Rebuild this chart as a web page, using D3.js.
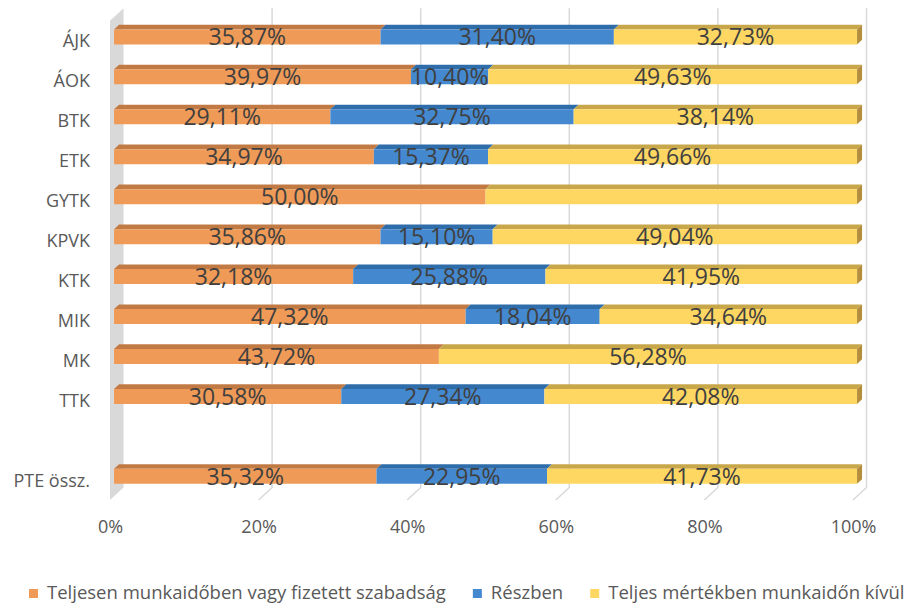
<!DOCTYPE html>
<html><head><meta charset="utf-8">
<script src="https://cdn.jsdelivr.net/npm/d3@7"></script>
<style>body{margin:0;background:#fff}svg{display:block;font-family:"Open Sans",sans-serif}</style>
</head><body><svg id="c" width="904" height="606"></svg>
<script>
const categories = ["ÁJK","ÁOK","BTK","ETK","GYTK","KPVK","KTK","MIK","MK","TTK","","PTE össz."];
const fullTime   = [35.87,39.97,29.11,34.97,50.00,35.86,32.18,47.32,43.72,30.58,null,35.32];
const partTime   = [31.40,10.40,32.75,15.37,0,15.10,25.88,18.04,0,27.34,null,22.95];
const outsideTime= [32.73,49.63,38.14,49.66,50.00,49.04,41.95,34.64,56.28,42.08,null,41.73];
const seriesNames = ["Teljesen munkaidőben vagy fizetett szabadság","Részben","Teljes mértékben munkaidőn kívül"];
const hiddenLabels = [["GYTK",2]];
const ticks = [0,20,40,60,80,100];

const colors = {front:["#EF9A57","#4489D0","#FED763"], top:["#C27A45","#2E6CAA","#C7A74A"], side:["#B48E3C"]};

const svg = d3.select("#c");
const DX = 13.5, DY = 12.5;        // depth vector
const D0 = 0.3, D1 = 0.67;          // bar depth range
const x = d3.scaleLinear().domain([0,100]).range([110,853]);
const y = d3.scaleBand().domain(categories).range([20.7,500]).padding(0);
const P = (p, d, v) => [x(p) + d*DX, v - d*DY];
const barH = 15;
const yTop = y.range()[0], yBot = y.range()[1];

// wall
svg.append("polygon")
  .attr("points", [P(0,0,yTop),P(0,1,yTop),P(0,1,yBot),P(0,0,yBot)].map(p=>p.join(",")).join(" "))
  .attr("fill","#D9D9D9");
// gridlines on back wall
const g = svg.append("g");
ticks.filter(t=>t>0).forEach(t=>{
  const a = P(t,1,yTop), b = P(t,1,yBot), c = P(t,0,yBot);
  g.append("path").attr("d",`M${a}L${b}L${c}`).attr("fill","none").attr("stroke","#D9D9D9").attr("stroke-width",1.5);
});

// bars
const series = [fullTime, partTime, outsideTime];
const bars = svg.append("g");
const labels = svg.append("g").attr("font-size",23).attr("fill","#404040").attr("text-anchor","middle");
categories.forEach((cat,i)=>{
  if (fullTime[i] == null) return;
  const vc = y(cat) + y.bandwidth()/2;
  const vt = vc - barH/2, vb = vc + barH/2;
  let acc = 0;
  let lastIdx = -1;
  series.forEach((s,k)=>{ if (s[i] > 0) lastIdx = k; });
  series.forEach((s,k)=>{
    const v = s[i];
    if (!(v > 0)) return;
    const x0 = acc, x1 = acc + v;
    acc = x1;
    const f = [P(x0,D0,vt),P(x1,D0,vt),P(x1,D0,vb),P(x0,D0,vb)];
    const t = [P(x0,D0,vt),P(x1,D0,vt),P(x1,D1,vt),P(x0,D1,vt)];
    bars.append("polygon").attr("points",t.map(p=>p.join(",")).join(" ")).attr("fill",colors.top[k]);
    bars.append("polygon").attr("points",f.map(p=>p.join(",")).join(" ")).attr("fill",colors.front[k]);
    if (k === lastIdx) {
      const sd = [P(x1,D0,vt),P(x1,D1,vt),P(x1,D1,vb),P(x1,D0,vb)];
      bars.append("polygon").attr("points",sd.map(p=>p.join(",")).join(" ")).attr("fill",colors.side[0]);
    }
    const hidden = hiddenLabels.some(h=>h[0]===cat && h[1]===k);
    if (!hidden) {
      const c = P((x0+x1)/2, D0, vc);
      labels.append("text").attr("x",c[0]).attr("y",c[1]).attr("dy","0.36em")
        .text(v.toFixed(2).replace(".",",")+"%");
    }
  });
});

// category labels (front plane)
const yAxis = d3.axisLeft(y).tickSize(0).tickPadding(0);
const ya = svg.append("g").attr("transform","translate(90,0)").call(yAxis);
ya.select(".domain").remove();
ya.selectAll("text").attr("font-size",18).attr("fill","#595959").attr("font-family","Open Sans").attr("dy","0.36em");

// x tick labels
const xAxis = d3.axisBottom(x).tickValues(ticks).tickSize(0).tickPadding(0).tickFormat(d=>d+"%");
const xa = svg.append("g").attr("transform","translate(0,520)").call(xAxis);
xa.select(".domain").remove();
xa.selectAll("text").attr("font-size",18).attr("fill","#595959").attr("font-family","Open Sans").attr("dy","0.72em");

// legend
const lg = svg.append("g").attr("font-size",18.5).attr("fill","#595959");
let lx = 29;
seriesNames.forEach((n,k)=>{
  lg.append("rect").attr("x",lx).attr("y",589).attr("width",9).attr("height",9).attr("fill",colors.front[k]);
  const t = lg.append("text").attr("x",lx+18).attr("y",599).text(n);
  lx = lx + 18 + t.node().getComputedTextLength() + 27;
});
</script></body></html>
